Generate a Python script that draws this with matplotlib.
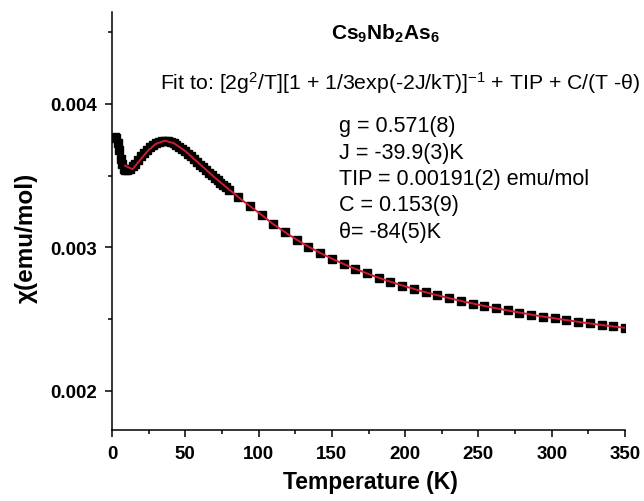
import matplotlib
matplotlib.use("Agg")
import matplotlib.pyplot as plt
from matplotlib.ticker import FixedLocator

plt.rcParams['font.family'] = ['Liberation Sans', 'DejaVu Sans']
plt.rcParams['mathtext.fontset'] = 'custom'
plt.rcParams['mathtext.rm'] = 'Liberation Sans'
plt.rcParams['mathtext.it'] = 'Liberation Sans:italic'
plt.rcParams['mathtext.bf'] = 'Liberation Sans:bold'

# Measured data (T in K, chi in emu/mol)
T_data = [2, 3, 4, 5, 6, 7, 8, 9, 10, 12, 14, 16, 18, 20, 22, 24, 26, 28, 30,
          32, 34, 36, 38, 40, 42, 44, 46, 48, 50, 52, 54, 56, 58, 60, 62, 64,
          66, 68, 70, 72, 74, 76, 78, 80,
          86, 94, 102, 110, 118, 126, 134, 142, 150, 158, 166, 174, 182, 190,
          198, 206, 214, 222, 230, 238, 246, 254, 262, 270, 278, 286, 294,
          302, 310, 318, 326, 334, 342, 350]
chi_data = [0.00377, 0.00376, 0.00373, 0.00368, 0.00362, 0.00358, 0.00355,
            0.00354, 0.00354, 0.00355, 0.003565, 0.003585, 0.00361, 0.003635,
            0.00366, 0.00368, 0.0037, 0.003716, 0.003728, 0.003737, 0.003742,
            0.003744, 0.003742, 0.003736, 0.003727, 0.003715, 0.003701,
            0.003686, 0.00367, 0.003652, 0.003634, 0.003615, 0.003596,
            0.003577, 0.003558, 0.003539, 0.00352, 0.003503, 0.003486,
            0.003469, 0.003452, 0.003435, 0.003418, 0.003401,
            0.00335, 0.00329, 0.003226, 0.003163, 0.003106, 0.003053,
            0.003006, 0.002962, 0.002922, 0.002885, 0.002851, 0.002819,
            0.002789, 0.002761, 0.002735, 0.002711, 0.002688, 0.002667,
            0.002647, 0.002627, 0.002609, 0.002592, 0.002576, 0.002561,
            0.002546, 0.002532, 0.002518, 0.002506, 0.002494, 0.002482,
            0.002471, 0.00246, 0.00245, 0.00244]

# Fit curve
T_fit = [9, 14, 20, 25, 30, 36, 42, 50, 60, 70, 80, 90, 100, 110, 120, 130,
         140, 150, 160, 170, 180, 190, 200, 210, 220, 230, 240, 250, 260, 270,
         280, 290, 300, 310, 320, 330, 340, 350]
chi_fit = [0.00357, 0.003545, 0.00362, 0.00368, 0.003722, 0.003744, 0.003728,
           0.003672, 0.00358, 0.003488, 0.003403, 0.00332, 0.003243, 0.003163,
           0.003093, 0.003029, 0.002973, 0.002922, 0.002876, 0.002835,
           0.002796, 0.002761, 0.002729, 0.002699, 0.002672, 0.002647,
           0.002623, 0.002601, 0.00258, 0.002561, 0.002543, 0.002525,
           0.002509, 0.002494, 0.002479, 0.002465, 0.002452, 0.00244]

x_ticks = [0, 50, 100, 150, 200, 250, 300, 350]
x_minor = [25, 75, 125, 175, 225, 275, 325]
y_ticks = [0.002, 0.003, 0.004]
y_tick_labels = ['0.002', '0.003', '0.004']
y_minor = [0.0025, 0.0035, 0.0045]

W, H = 644, 502
fig = plt.figure(figsize=(W / 100, H / 100), dpi=100)
ax = fig.add_axes([112 / W, (H - 431) / H, (625 - 112) / W, (431 - 13) / H])

ax.plot(T_data, chi_data, linestyle='none', marker='s', markersize=5.8,
        color='black', zorder=2)
ax.plot(T_fit, chi_fit, color='#d01a32', linewidth=1.4, zorder=3)

ax.set_xlim(0, 350)
ax.set_ylim(0.001728, 0.004641)

for s in ['top', 'right']:
    ax.spines[s].set_visible(False)
for s in ['left', 'bottom']:
    ax.spines[s].set_linewidth(1.1)

ax.set_xticks(x_ticks)
ax.set_xticklabels([str(v) for v in x_ticks])
ax.xaxis.set_minor_locator(FixedLocator(x_minor))
ax.set_yticks(y_ticks)
ax.set_yticklabels(y_tick_labels)
ax.yaxis.set_minor_locator(FixedLocator(y_minor))
ax.tick_params(which='major', direction='out', length=5, width=1.1,
               labelsize=13.5, pad=6)
ax.tick_params(which='minor', direction='out', length=3, width=1.1)
for lab in ax.get_xticklabels() + ax.get_yticklabels():
    lab.set_fontweight('bold')

ax.set_xlabel('Temperature (K)', fontsize=16.5, fontweight='bold', va='center')
ax.xaxis.set_label_coords(0.503, -0.124)
ax.set_ylabel('χ(emu/mol)', fontsize=17.5, fontweight='bold', va='center')
ax.yaxis.set_label_coords(-0.166, 0.462)

fig.text(385 / W, (H - 40) / H,
         r'Cs$_{\mathbf{9}}$Nb$_{\mathbf{2}}$As$_{\mathbf{6}}$',
         fontsize=15, fontweight='bold', ha='center', va='baseline')
fig.text(160 / W, (H - 90) / H,
         r'Fit to: [2g$^{\mathregular{2}}$/T][1 + 1/3exp(-2J/kT)]$^{\mathregular{-1}}$ + TIP + C/(T -θ)',
         fontsize=15.3, ha='left', va='baseline')
params = ['g = 0.571(8)', 'J = -39.9(3)K', 'TIP = 0.00191(2) emu/mol',
          'C = 0.153(9)', 'θ= -84(5)K']
baselines = [132, 158.5, 185, 211.5, 238]
for txt, b in zip(params, baselines):
    fig.text(339 / W, (H - b) / H, txt, fontsize=15.5, ha='left', va='baseline')

fig.savefig('out.png', dpi=100)
